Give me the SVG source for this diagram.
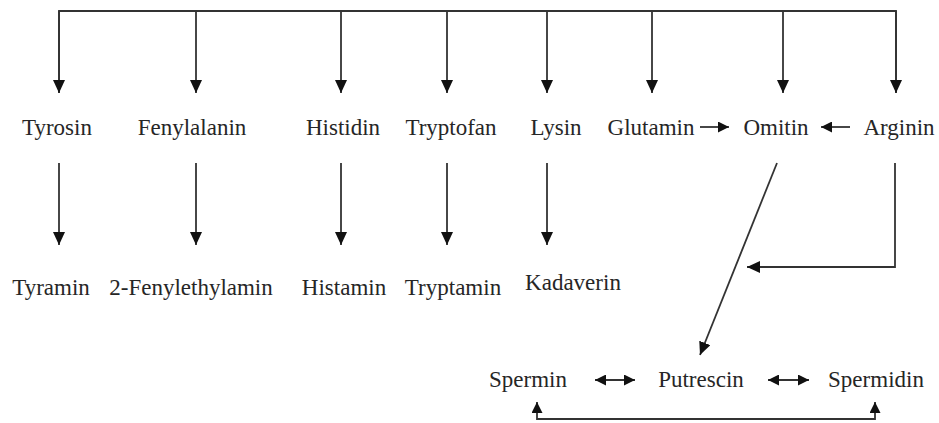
<svg xmlns="http://www.w3.org/2000/svg" width="939" height="423" viewBox="0 0 939 423">
<style>
.c{stroke:#333;stroke-width:1.8;fill:none}
.a{marker-end:url(#ah)}
.s{marker-end:url(#sh)}
.d{marker-start:url(#sh);marker-end:url(#sh)}
text.t{font-family:'Liberation Serif',serif !important;font-size:23px;fill:#262626;text-anchor:middle}
</style>
<defs>
<marker id="ah" markerUnits="userSpaceOnUse" markerWidth="13" markerHeight="12" refX="13" refY="6" orient="auto">
<path d="M0,0 L13,6 L0,12 z" fill="#111"/>
</marker>
<marker id="sh" markerUnits="userSpaceOnUse" markerWidth="11" markerHeight="11" refX="11" refY="5.5" orient="auto-start-reverse">
<path d="M0,0 L11,5.5 L0,11 z" fill="#111"/>
</marker>
</defs>
<rect width="939" height="423" fill="#fff"/>
<g id="connectors">
<path class="c" d="M59,93 V11 H896 V93"/>
<line class="c a" x1="59" y1="11" x2="59" y2="93"/>
<line class="c a" x1="196" y1="11" x2="196" y2="93"/>
<line class="c a" x1="341" y1="11" x2="341" y2="93"/>
<line class="c a" x1="447" y1="11" x2="447" y2="93"/>
<line class="c a" x1="547" y1="11" x2="547" y2="93"/>
<line class="c a" x1="652" y1="11" x2="652" y2="93"/>
<line class="c a" x1="783" y1="11" x2="783" y2="93"/>
<line class="c a" x1="896" y1="11" x2="896" y2="93"/>
<line class="c a" x1="59" y1="163" x2="59" y2="245"/>
<line class="c a" x1="196" y1="163" x2="196" y2="245"/>
<line class="c a" x1="341" y1="163" x2="341" y2="245"/>
<line class="c a" x1="447" y1="163" x2="447" y2="245"/>
<line class="c a" x1="547" y1="163" x2="547" y2="245"/>
<line class="c s" x1="700" y1="127" x2="729" y2="127"/>
<line class="c s" x1="850" y1="127" x2="821" y2="127"/>
<line class="c a" x1="777" y1="163" x2="700" y2="355"/>
<polyline class="c a" points="895,163 895,267 747,267"/>
<line class="c d" x1="595" y1="380" x2="635" y2="380"/>
<line class="c d" x1="768" y1="380" x2="809" y2="380"/>
<polyline class="c d" points="537,402 537,419 875,419 875,402"/>
</g>
<g id="tyrosin"><text class="t" x="57" y="135" style="font-family:'Liberation Serif',serif">Tyrosin</text></g>
<g id="fenylalanin"><text class="t" x="192" y="135" style="font-family:'Liberation Serif',serif">Fenylalanin</text></g>
<g id="histidin"><text class="t" x="343" y="135" style="font-family:'Liberation Serif',serif">Histidin</text></g>
<g id="tryptofan"><text class="t" x="451" y="135" style="font-family:'Liberation Serif',serif">Tryptofan</text></g>
<g id="lysin"><text class="t" x="556" y="135" style="font-family:'Liberation Serif',serif">Lysin</text></g>
<g id="glutamin"><text class="t" x="651" y="135" style="font-family:'Liberation Serif',serif">Glutamin</text></g>
<g id="omitin"><text class="t" x="776" y="135" style="font-family:'Liberation Serif',serif">Omitin</text></g>
<g id="arginin"><text class="t" x="899" y="135" style="font-family:'Liberation Serif',serif">Arginin</text></g>
<g id="tyramin"><text class="t" x="51" y="295" style="font-family:'Liberation Serif',serif">Tyramin</text></g>
<g id="fenylethylamin"><text class="t" x="191" y="295" style="font-family:'Liberation Serif',serif">2-Fenylethylamin</text></g>
<g id="histamin"><text class="t" x="344" y="295" style="font-family:'Liberation Serif',serif">Histamin</text></g>
<g id="tryptamin"><text class="t" x="453" y="295" style="font-family:'Liberation Serif',serif">Tryptamin</text></g>
<g id="kadaverin"><text class="t" x="573" y="290" style="font-family:'Liberation Serif',serif">Kadaverin</text></g>
<g id="spermin"><text class="t" x="528" y="387" style="font-family:'Liberation Serif',serif">Spermin</text></g>
<g id="putrescin"><text class="t" x="701" y="387" style="font-family:'Liberation Serif',serif">Putrescin</text></g>
<g id="spermidin"><text class="t" x="876" y="387" style="font-family:'Liberation Serif',serif">Spermidin</text></g>
</svg>
